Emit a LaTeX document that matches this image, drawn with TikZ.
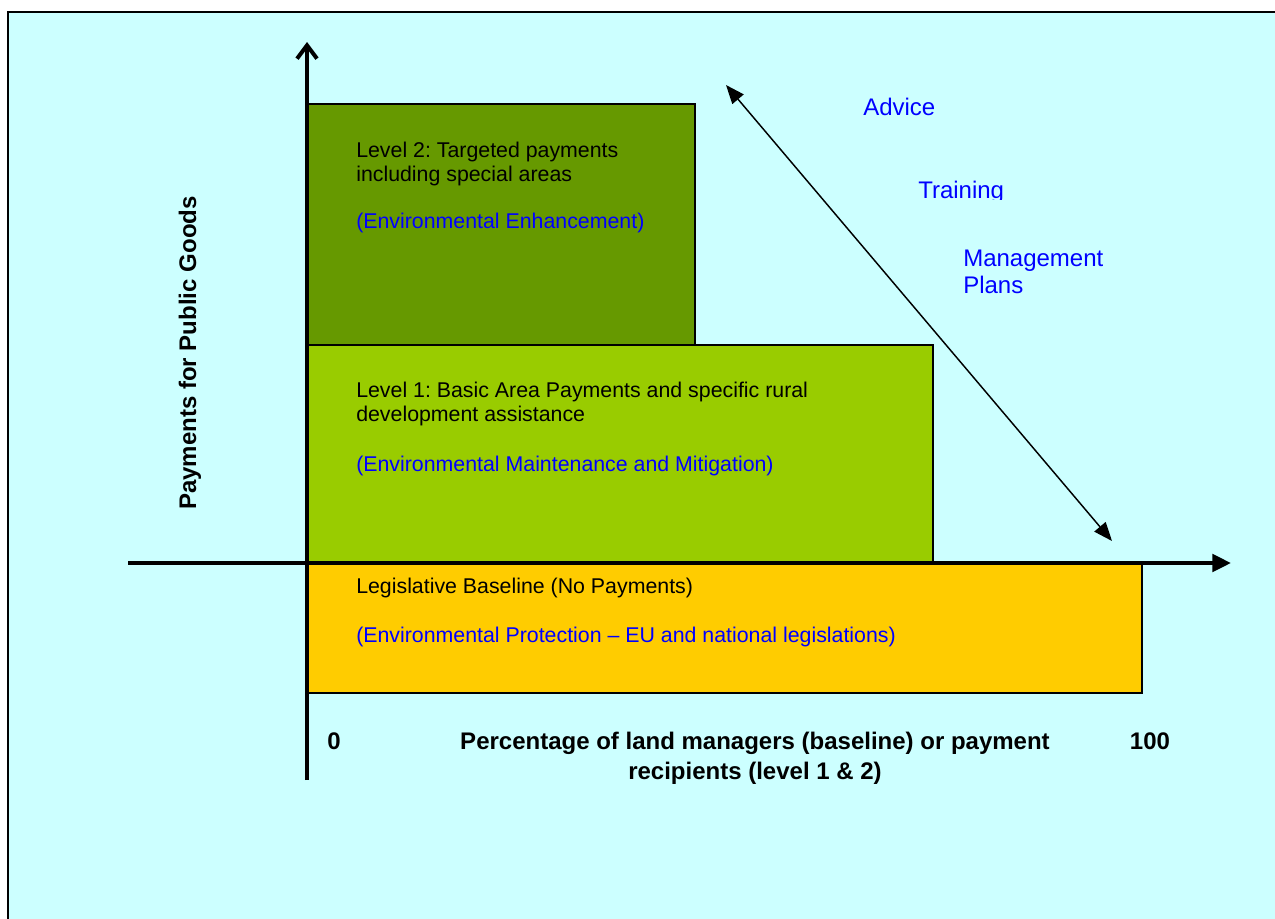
\documentclass[tikz,border=0pt]{standalone}
\usepackage{fontspec}
\setmainfont{Liberation Sans}
\usetikzlibrary{arrows.meta}
\frenchspacing

\definecolor{sky}{HTML}{CCFFFF}
\definecolor{lvltwo}{HTML}{669900}
\definecolor{lvlone}{HTML}{99CC00}
\definecolor{basegold}{HTML}{FFCC00}
\definecolor{notes}{HTML}{0000FF}

\tikzset{
  tier/.style={draw=black, line width=1.1pt},
  axisline/.style={line width=3pt},
  boxtext/.style={anchor=base west, inner sep=0pt, font=\fontsize{16}{18}\selectfont},
  envtext/.style={boxtext, text=notes},
  sidenote/.style={anchor=base west, inner sep=0pt, text=notes, font=\fontsize{18}{20}\selectfont},
  axislabel/.style={anchor=base, inner sep=0pt, font=\fontsize{18}{22}\selectfont\bfseries},
}

\begin{document}
\begin{tikzpicture}[x=0.75pt, y=-0.75pt]
  % canvas and outer frame
  \useasboundingbox (0,0) rectangle (1275,918);
  \begin{scope}
    \clip (0,0) rectangle (1275,918);
    \fill[white] (0,0) rectangle (1275,918);
    \draw[fill=sky, line width=1.5pt] (8,12) rectangle (1285,930);
  \end{scope}

  % payment tiers
  \draw[tier, fill=lvltwo]   (307,104) rectangle (695,345);
  \draw[tier, fill=lvlone]   (307,345) rectangle (933,562);
  \draw[tier, fill=basegold] (307,563) rectangle (1142,693);

  % axes
  \coordinate (yfoot) at (307,780);
  \coordinate (ytip)  at (307,42);
  \coordinate (xfoot) at (128,563);
  \coordinate (xtip)  at (1231,563);
  \draw[axisline, -{Straight Barb[length=10pt, width=15pt]}] (yfoot) -- (ytip);
  \draw[axisline, -{Triangle[length=14pt, width=13pt]}] (xfoot) -- (xtip);

  % level 2 texts
  \node[boxtext] (l2a) at (356,157) {Level 2: Targeted payments};
  \node[boxtext] (l2b) at (356,181) {including special areas};
  \node[envtext] (l2c) at (356,228) {(Environmental Enhancement)};

  % level 1 texts
  \node[boxtext] (l1a) at (356,397) {Level 1: Basic Area Payments and specific rural};
  \node[boxtext] (l1b) at (356,421) {development assistance};
  \node[envtext] (l1c) at (356,471) {(Environmental Maintenance and Mitigation)};

  % baseline texts
  \node[boxtext] (b0a) at (356,593) {Legislative Baseline (No Payments)};
  \node[envtext] (b0b) at (356,642) {(Environmental Protection – EU and national legislations)};

  % support measures
  \node[sidenote] (advice) at (863,115) {Advice};
  \begin{scope}
    \clip (900,170) rectangle (1020,199);
    \node[sidenote] (training) at (918,198) {Training};
  \end{scope}
  \node[sidenote] (mgmt)  at (963,266) {Management};
  \node[sidenote] (plans) at (963,293) {Plans};

  % double-headed support arrow
  \coordinate (supTop) at (726,85);
  \coordinate (supBot) at (1112,541);
  \draw[line width=1.1pt, {Triangle[length=14pt, width=11pt]}-{Triangle[length=14pt, width=11pt]}] (supTop) -- (supBot);

  % axis labels
  \node[axislabel] (zero)    at (334,749)  {0};
  \node[axislabel] (hundred) at (1150,749) {100};
  \node[axislabel] (xlab1)   at (755,749)  {Percentage of land managers (baseline) or payment};
  \node[axislabel] (xlab2)   at (755,779)  {recipients (level 1 \& 2)};
  \node[axislabel, anchor=center, rotate=90] (ylab) at (190,353) {Payments for Public Goods};
\end{tikzpicture}
\end{document}
